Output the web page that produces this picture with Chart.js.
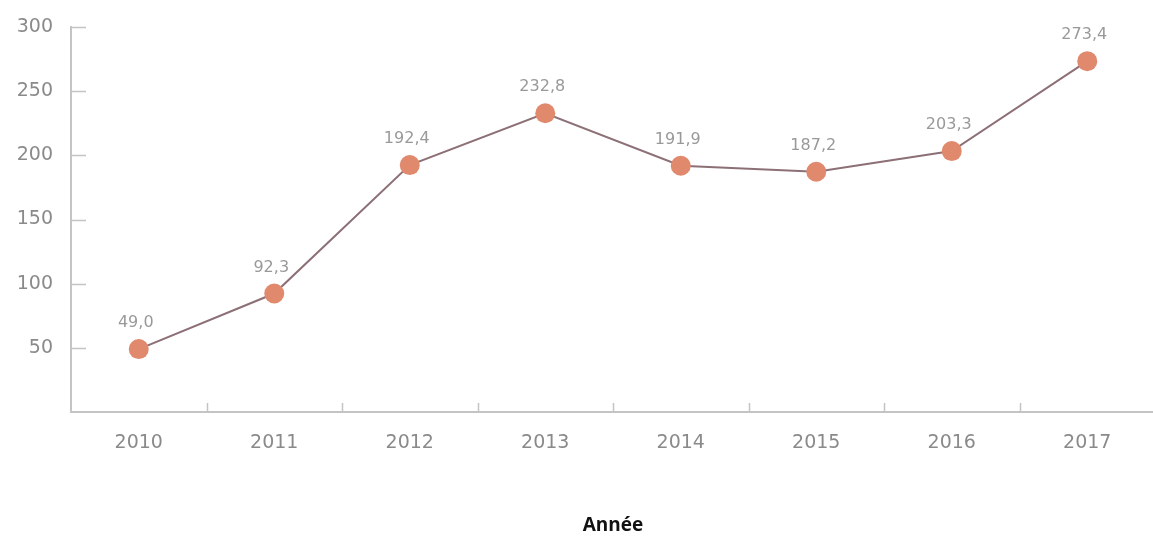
<!DOCTYPE html>
<html>
<head>
<meta charset="utf-8">
<script src="https://cdn.jsdelivr.net/npm/chart.js@4/dist/chart.umd.min.js"></script>
<style>
  html, body { margin: 0; padding: 0; background: #fff; overflow: hidden; }
  #wrap { width: 1165px; height: 540px; }
</style>
</head>
<body>
<div id="wrap"><canvas id="myChart"></canvas></div>
<script>
const years = ["2010", "2011", "2012", "2013", "2014", "2015", "2016", "2017"];
const values = [49.0, 92.3, 192.4, 232.8, 191.9, 187.2, 203.3, 273.4];
const yTicks = [50, 100, 150, 200, 250, 300];

const axisColor = "#c4c4c4";
const textColor = "#8a8a8a";
const tickFont = { family: "DejaVu Sans", size: 19 };

// short tick marks drawn inward + value labels above points
const decorations = {
  id: "decorations",
  afterDatasetsDraw(chart) {
    const ctx = chart.ctx;
    const x = chart.scales.x;
    const y = chart.scales.y;
    ctx.save();
    ctx.strokeStyle = axisColor;
    ctx.lineWidth = 1.5;
    ctx.beginPath();
    yTicks.forEach(function (v) {
      const py = Math.round(y.getPixelForValue(v)) + 0.5;
      ctx.moveTo(x.left, py);
      ctx.lineTo(x.left + 15, py);
    });
    for (let i = 1; i < years.length; i++) {
      const px = Math.round((x.getPixelForValue(i - 1) + x.getPixelForValue(i)) / 2) + 0.5;
      ctx.moveTo(px, y.bottom);
      ctx.lineTo(px, y.bottom - 9);
    }
    ctx.stroke();

    ctx.fillStyle = "#999";
    ctx.font = "16px 'DejaVu Sans'";
    ctx.textAlign = "center";
    ctx.textBaseline = "alphabetic";
    const meta = chart.getDatasetMeta(0);
    meta.data.forEach(function (pt, i) {
      ctx.fillText(values[i].toFixed(1).replace(".", ","), pt.x - 3, pt.y - 22);
    });
    ctx.restore();
  }
};

const ctx = document.getElementById("myChart").getContext("2d");
const myChart = new Chart(ctx, {
  type: "line",
  data: {
    labels: years,
    datasets: [
      {
        data: values,
        borderColor: "#8c7076",
        borderWidth: 2,
        pointRadius: 10,
        pointHoverRadius: 10,
        pointBackgroundColor: "#e0896d",
        pointBorderColor: "#e0896d",
        pointBorderWidth: 0,
        tension: 0,
      },
    ],
  },
  options: {
    responsive: true,
    maintainAspectRatio: false,
    animation: false,
    layout: { padding: { top: 27, right: 0, left: 0, bottom: 0 } },
    plugins: {
      legend: { display: false },
      tooltip: { enabled: false },
    },
    scales: {
      x: {
        offset: true,
        grid: { display: false },
        border: { display: true, color: axisColor, width: 2 },
        ticks: { color: textColor, font: tickFont, padding: 12 },
        title: {
          display: true,
          text: "Année",
          color: "#111",
          font: { family: "Open Sans", size: 19, weight: "bold" },
          padding: { top: 4, bottom: 3 },
        },
        afterFit(scale) { scale.height = 128; },
      },
      y: {
        min: 0,
        max: 300,
        grid: { display: false },
        border: { display: true, color: axisColor, width: 2 },
        ticks: {
          stepSize: 50,
          color: textColor,
          font: tickFont,
          padding: 10,
          callback: function (v) { return v === 0 ? "" : v; },
        },
        afterFit(scale) { scale.width = 71; },
      },
    },
  },
  plugins: [decorations],
});
</script>
</body>
</html>
